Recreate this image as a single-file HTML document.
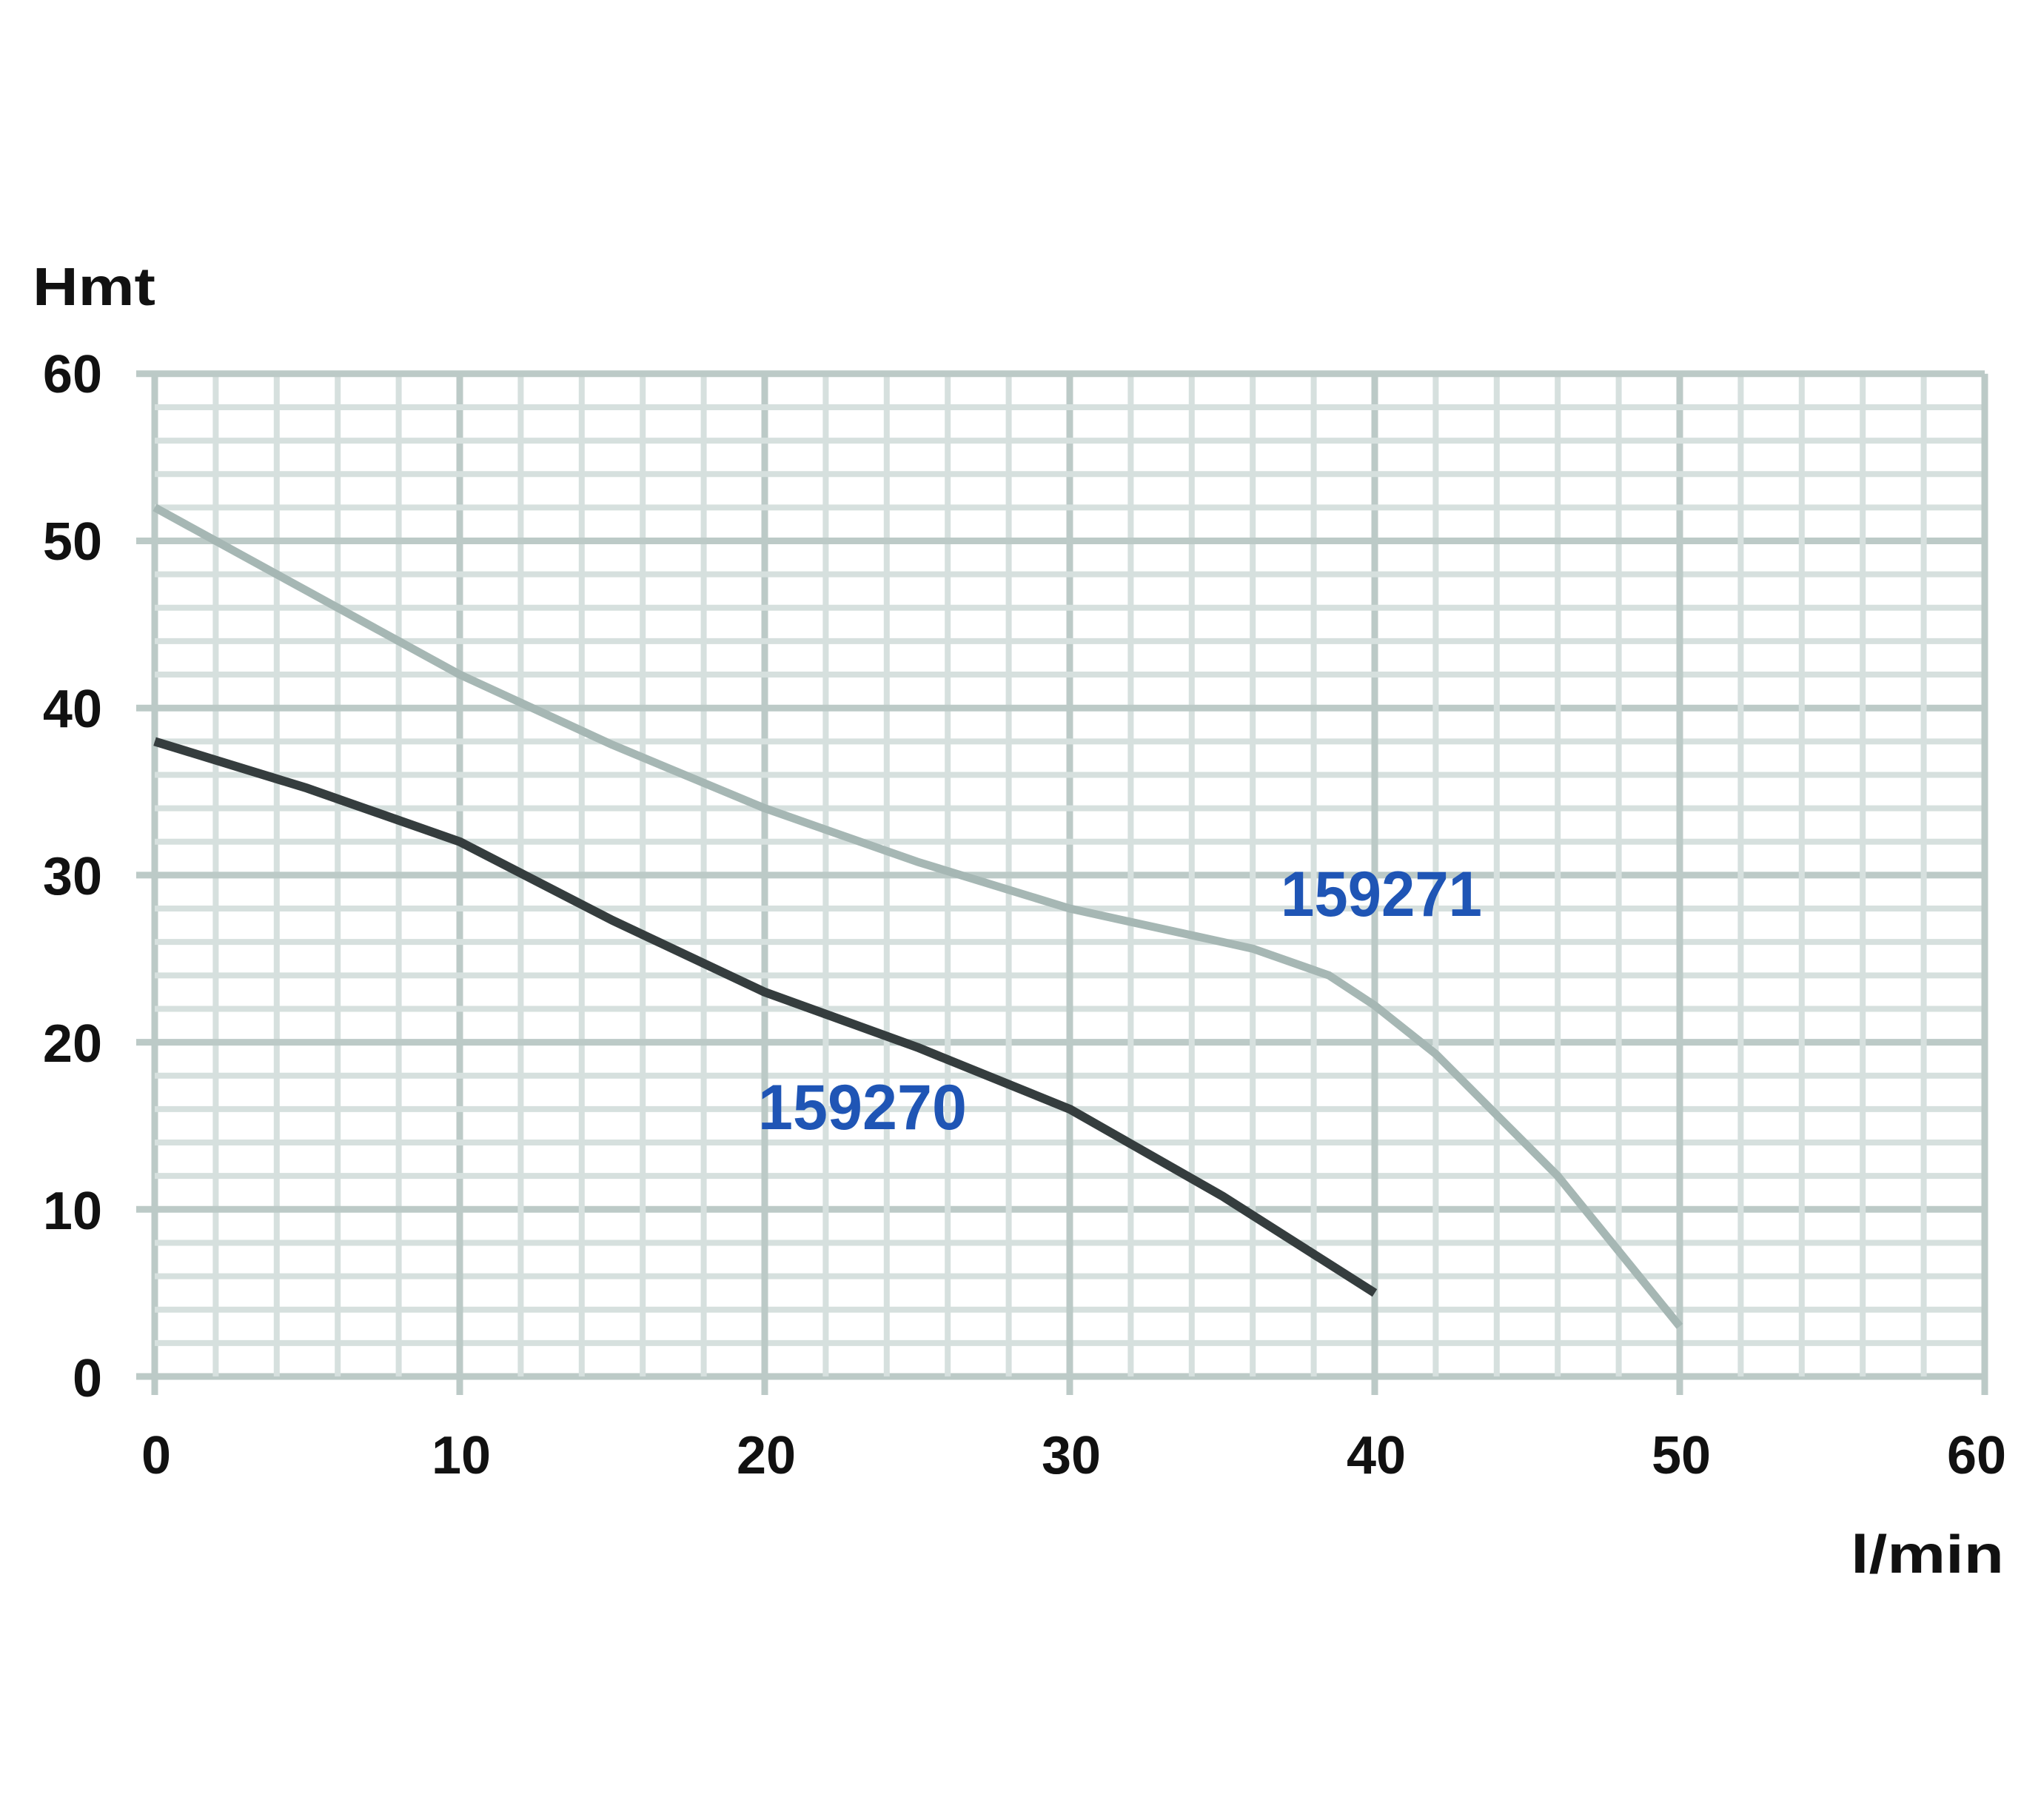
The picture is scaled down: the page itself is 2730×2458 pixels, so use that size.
<!DOCTYPE html>
<html><head><meta charset="utf-8"><style>html,body{margin:0;padding:0;background:#fff}svg{display:block}</style></head>
<body>
<svg width="2730" height="2458" viewBox="0 0 2730 2458" xmlns="http://www.w3.org/2000/svg" font-family="Liberation Sans, sans-serif" font-weight="bold">
<g id="grid"></g>
<script>
(function(){
var g=document.getElementById('grid'),ns='http://www.w3.org/2000/svg';
function X(v){return 209+v*41.2;}function Y(v){return 1859-v*22.57;}
for(var i=0;i<=60;i+=2){var maj=i%10==0;
var l=document.createElementNS(ns,'line');l.setAttribute('x1',X(i));l.setAttribute('x2',X(i));l.setAttribute('y1',Y(60));l.setAttribute('y2',maj?Y(0)+25:Y(0));l.setAttribute('stroke',maj?'#bccac7':'#d6e0de');l.setAttribute('stroke-width',maj?9:8);g.appendChild(l);
var h=document.createElementNS(ns,'line');h.setAttribute('y1',Y(i));h.setAttribute('y2',Y(i));h.setAttribute('x1',maj?X(0)-25:X(0));h.setAttribute('x2',X(60));h.setAttribute('stroke',maj?'#bccac7':'#d6e0de');h.setAttribute('stroke-width',maj?9:8);g.appendChild(h);}
function P(pts,c,w){var d=pts.map(function(p,k){return (k?'L':'M')+X(p[0])+','+Y(p[1]);}).join(' ');var p=document.createElementNS(ns,'path');p.setAttribute('d',d);p.setAttribute('fill','none');p.setAttribute('stroke',c);p.setAttribute('stroke-width',w);p.setAttribute('stroke-linejoin','round');g.appendChild(p);}
P([[0,52],[5,47],[10,42],[15,37.8],[20,34],[25,30.8],[30,28],[33,26.8],[36,25.6],[38.5,24],[40,22.2],[42,19.3],[46,12],[50,3]],'#a6b7b4',11);
P([[0,38],[5,35.2],[10,32],[15,27.3],[20,23],[25,19.7],[30,16],[35,10.8],[40,5]],'#353d3e',12);
})();
</script>
<g fill="#111" font-size="72">
<text x="44" y="412" textLength="166" lengthAdjust="spacingAndGlyphs">Hmt</text>
<g text-anchor="end">
<text x="138" y="530">60</text><text x="138" y="756">50</text><text x="138" y="982">40</text><text x="138" y="1208">30</text><text x="138" y="1434">20</text><text x="138" y="1660">10</text><text x="138" y="1886">0</text>
</g>
<g text-anchor="middle">
<text x="211" y="1990">0</text><text x="623" y="1990">10</text><text x="1035" y="1990">20</text><text x="1447" y="1990">30</text><text x="1859" y="1990">40</text><text x="2271" y="1990">50</text><text x="2670" y="1990">60</text>
</g>
<text x="2500" y="2124" textLength="207" lengthAdjust="spacingAndGlyphs">l/min</text>
</g>
<g fill="#1f55b5" font-size="86">
<text x="1730" y="1237" textLength="272" lengthAdjust="spacingAndGlyphs">159271</text>
<text x="1024" y="1525" textLength="282" lengthAdjust="spacingAndGlyphs">159270</text>
</g>
</svg>
</body></html>
